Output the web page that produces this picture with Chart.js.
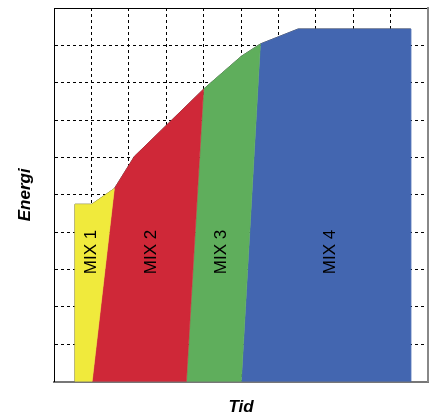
<!DOCTYPE html>
<html>
<head>
<meta charset="utf-8">
<script src="https://cdn.jsdelivr.net/npm/chart.js@4.4.0/dist/chart.umd.min.js"></script>
<style>
  html, body { margin: 0; padding: 0; background: #fff; }
  #wrap { width: 430px; height: 414px; }
</style>
</head>
<body>
<div id="wrap"><canvas id="mixChart" width="430" height="414"></canvas></div>
<script>
// polygon corners for each mix (x = Tid, y = Energi)
const mix1X = [0.56, 0.56, 1.01, 1.615, 1.02];
const mix1Y = [0, 4.75, 4.75, 5.17, 0];
const mix2X = [1.02, 1.615, 2.15, 4.0, 3.54];
const mix2Y = [0, 5.17, 6.03, 7.83, 0];
const mix3X = [3.54, 4.0, 5.01, 5.52, 5.01];
const mix3Y = [0, 7.83, 8.71, 9.04, 0];
const mix4X = [5.01, 5.52, 6.53, 9.54, 9.54];
const mix4Y = [0, 9.04, 9.44, 9.44, 0];

// outer profile of the whole area
const edgeX = [0.56, 0.56, 1.01, 1.615, 2.15, 4.0, 5.01, 5.52, 6.53, 9.54];
const edgeY = [0, 4.75, 4.75, 5.17, 6.03, 7.83, 8.71, 9.04, 9.44, 9.44];

const mixNames = ["MIX 1", "MIX 2", "MIX 3", "MIX 4"];
const nameX = [0.99, 2.6, 4.47, 7.39];
const nameY = [3.47, 3.47, 3.47, 3.47];

const colors = ["#f0ea3c", "#cf2838", "#5fae5c", "#4366b0"];

function toPoints(xs, ys) {
    return xs.map((x, i) => ({ x: x, y: ys[i] }));
}

const shapes = [
    toPoints(mix1X, mix1Y),
    toPoints(mix2X, mix2Y),
    toPoints(mix3X, mix3Y),
    toPoints(mix4X, mix4Y),
];

const datasets = shapes.map((pts, i) => ({
    label: mixNames[i],
    data: pts,
    showLine: true,
    fill: "shape",
    backgroundColor: colors[i],
    borderColor: colors[i],
    borderWidth: 0.5,
    pointRadius: 0,
    tension: 0,
}));

datasets.push({
    label: "kant",
    data: toPoints(edgeX, edgeY),
    showLine: true,
    fill: false,
    borderColor: "#555",
    borderWidth: 1,
    pointRadius: 0,
});

// writes the mix names vertically inside each area
const mixLabels = {
    id: "mixLabels",
    afterDatasetsDraw(chart) {
        const { ctx, scales } = chart;
        ctx.save();
        ctx.fillStyle = "#000";
        ctx.font = "17px 'Liberation Sans', Arial, sans-serif";
        ctx.textAlign = "center";
        ctx.textBaseline = "middle";
        mixNames.forEach((name, i) => {
            const px = scales.x.getPixelForValue(nameX[i]);
            const py = scales.y.getPixelForValue(nameY[i]);
            ctx.save();
            ctx.translate(px, py);
            ctx.rotate(-Math.PI / 2);
            ctx.fillText(name, 0, 0);
            ctx.restore();
        });
        ctx.restore();
    },
};

const hideEdges = (c) =>
    c.tick && (c.tick.value === 0 || c.tick.value === 10) ? "rgba(0,0,0,0)" : "#000";

const titleFont = {
    family: "'Liberation Sans', Arial, sans-serif",
    size: 17,
    weight: "bold",
    style: "italic",
    lineHeight: 1,
};

new Chart(document.getElementById("mixChart").getContext("2d"), {
    type: "scatter",
    data: { datasets: datasets },
    options: {
        responsive: false,
        animation: false,
        layout: { padding: { left: 0, top: 8, right: 2, bottom: 0 } },
        plugins: {
            legend: { display: false },
            tooltip: { enabled: false },
        },
        scales: {
            x: {
                type: "linear",
                min: 0,
                max: 10,
                ticks: { display: false, stepSize: 1 },
                grid: { color: hideEdges, lineWidth: 1, drawTicks: false },
                border: { display: true, color: "#777", width: 2, dash: [3, 3] },
                title: {
                    display: true,
                    text: "Tid",
                    color: "#000",
                    font: titleFont,
                    padding: { top: 16.8, bottom: -1.5 },
                },
            },
            y: {
                type: "linear",
                min: 0,
                max: 10,
                ticks: { display: false, stepSize: 1 },
                grid: { color: hideEdges, lineWidth: 1, drawTicks: false },
                border: { display: true, color: "#000", width: 1, dash: [3, 3] },
                title: {
                    display: true,
                    text: "Energi",
                    color: "#000",
                    font: titleFont,
                    padding: { top: 17, bottom: 20 },
                },
            },
            xTop: {
                type: "linear",
                position: "top",
                min: 0,
                max: 10,
                ticks: { display: false },
                grid: { display: false, drawTicks: false },
                border: { display: true, color: "#000", width: 1 },
            },
            yRight: {
                type: "linear",
                position: "right",
                min: 0,
                max: 10,
                ticks: { display: false },
                grid: { display: false, drawTicks: false },
                border: { display: true, color: "#888", width: 2 },
            },
        },
    },
    plugins: [mixLabels],
});
</script>
</body>
</html>
